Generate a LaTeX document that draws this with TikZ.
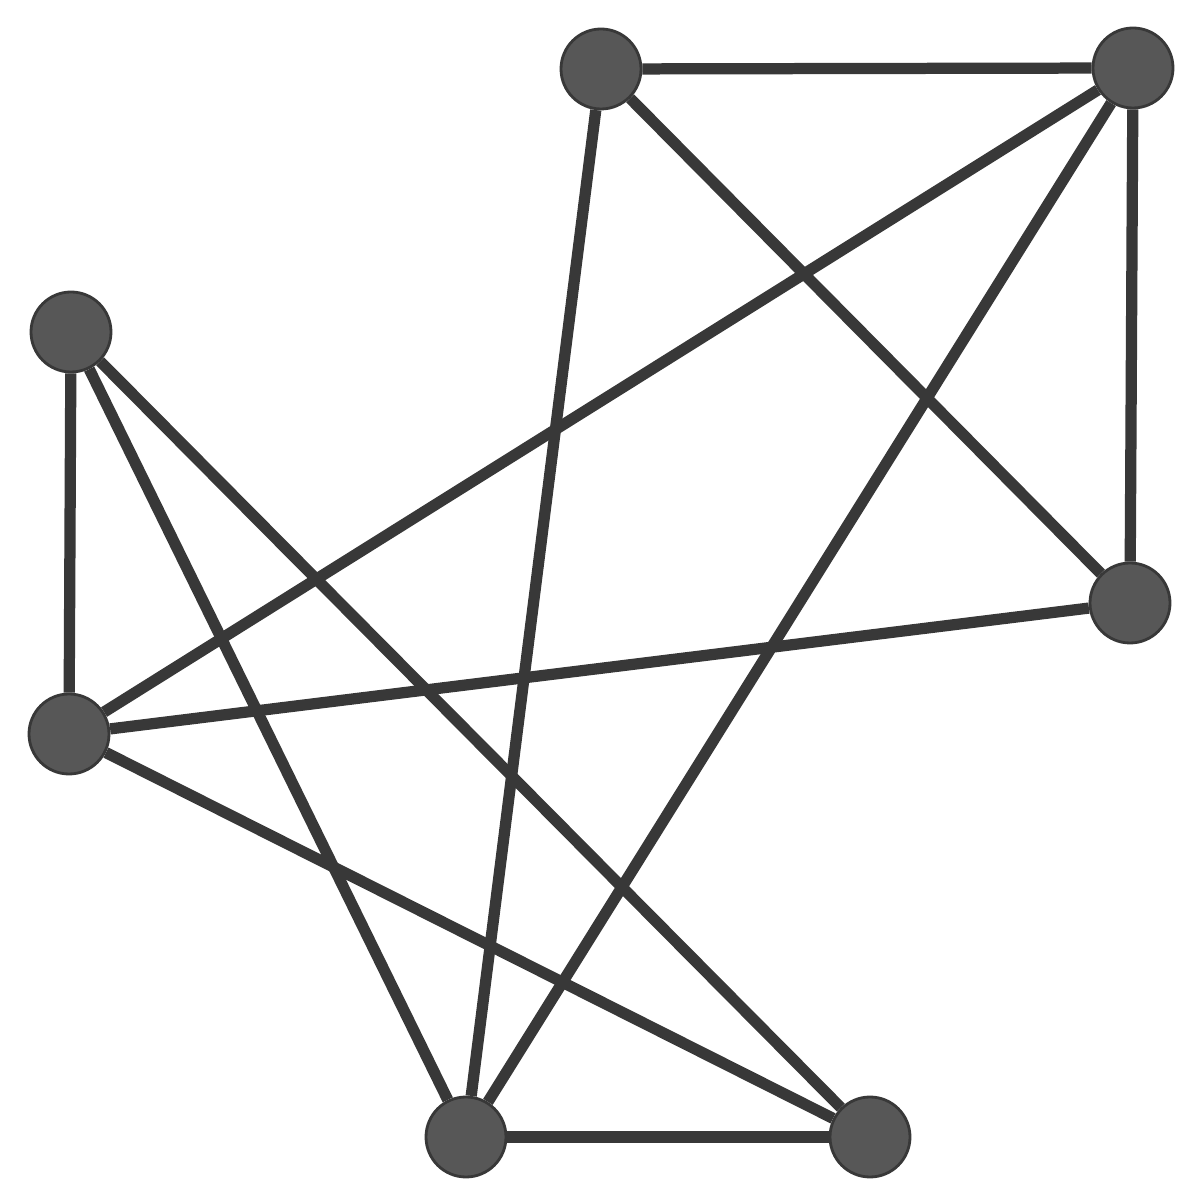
\documentclass[tikz,border=0pt]{standalone}
\usepackage{tikz}
\usetikzlibrary{arrows.meta}

\begin{document}
\begin{tikzpicture}
\useasboundingbox (0,0) rectangle (11.77,11.92);
% Define the vertices
\node (a) at (6.01,11.23) [circle, fill=black!66, draw=black!78, thick, minimum size=0.8cm, inner sep=0pt] {};
\node (b) at (11.33,11.24) [circle, fill=black!66, draw=black!78, thick, minimum size=0.8cm, inner sep=0pt] {};
\node (c) at (0.71,8.60) [circle, fill=black!66, draw=black!78, thick, minimum size=0.8cm, inner sep=0pt] {};
\node (d) at (0.69,4.58) [circle, fill=black!66, draw=black!78, thick, minimum size=0.8cm, inner sep=0pt] {};
\node (e) at (11.30,5.89) [circle, fill=black!66, draw=black!78, thick, minimum size=0.8cm, inner sep=0pt] {};
\node (f) at (4.66,0.55) [circle, fill=black!66, draw=black!78, thick, minimum size=0.8cm, inner sep=0pt] {};
\node (g) at (8.70,0.55) [circle, fill=black!66, draw=black!78, thick, minimum size=0.8cm, inner sep=0pt] {};

% Edges
\draw [line width=3.2pt, black!78] (a) -- (b);
\draw [line width=3.2pt, black!78] (b) -- (e);
\draw [line width=3.2pt, black!78] (a) -- (e);
\draw [line width=3.2pt, black!78] (b) -- (d);
\draw [line width=3.2pt, black!78] (b) -- (f);
\draw [line width=3.2pt, black!78] (a) -- (f);

\draw [line width=3.2pt, black!78] (c) -- (d);
\draw [line width=3.2pt, black!78] (c) -- (f);
\draw [line width=3.2pt, black!78] (c) -- (g);
\draw [line width=3.2pt, black!78] (d) -- (e);
\draw [line width=3.2pt, black!78] (d) -- (g);
\draw [line width=3.2pt, black!78] (f) -- (g);
\end{tikzpicture}
\end{document}
